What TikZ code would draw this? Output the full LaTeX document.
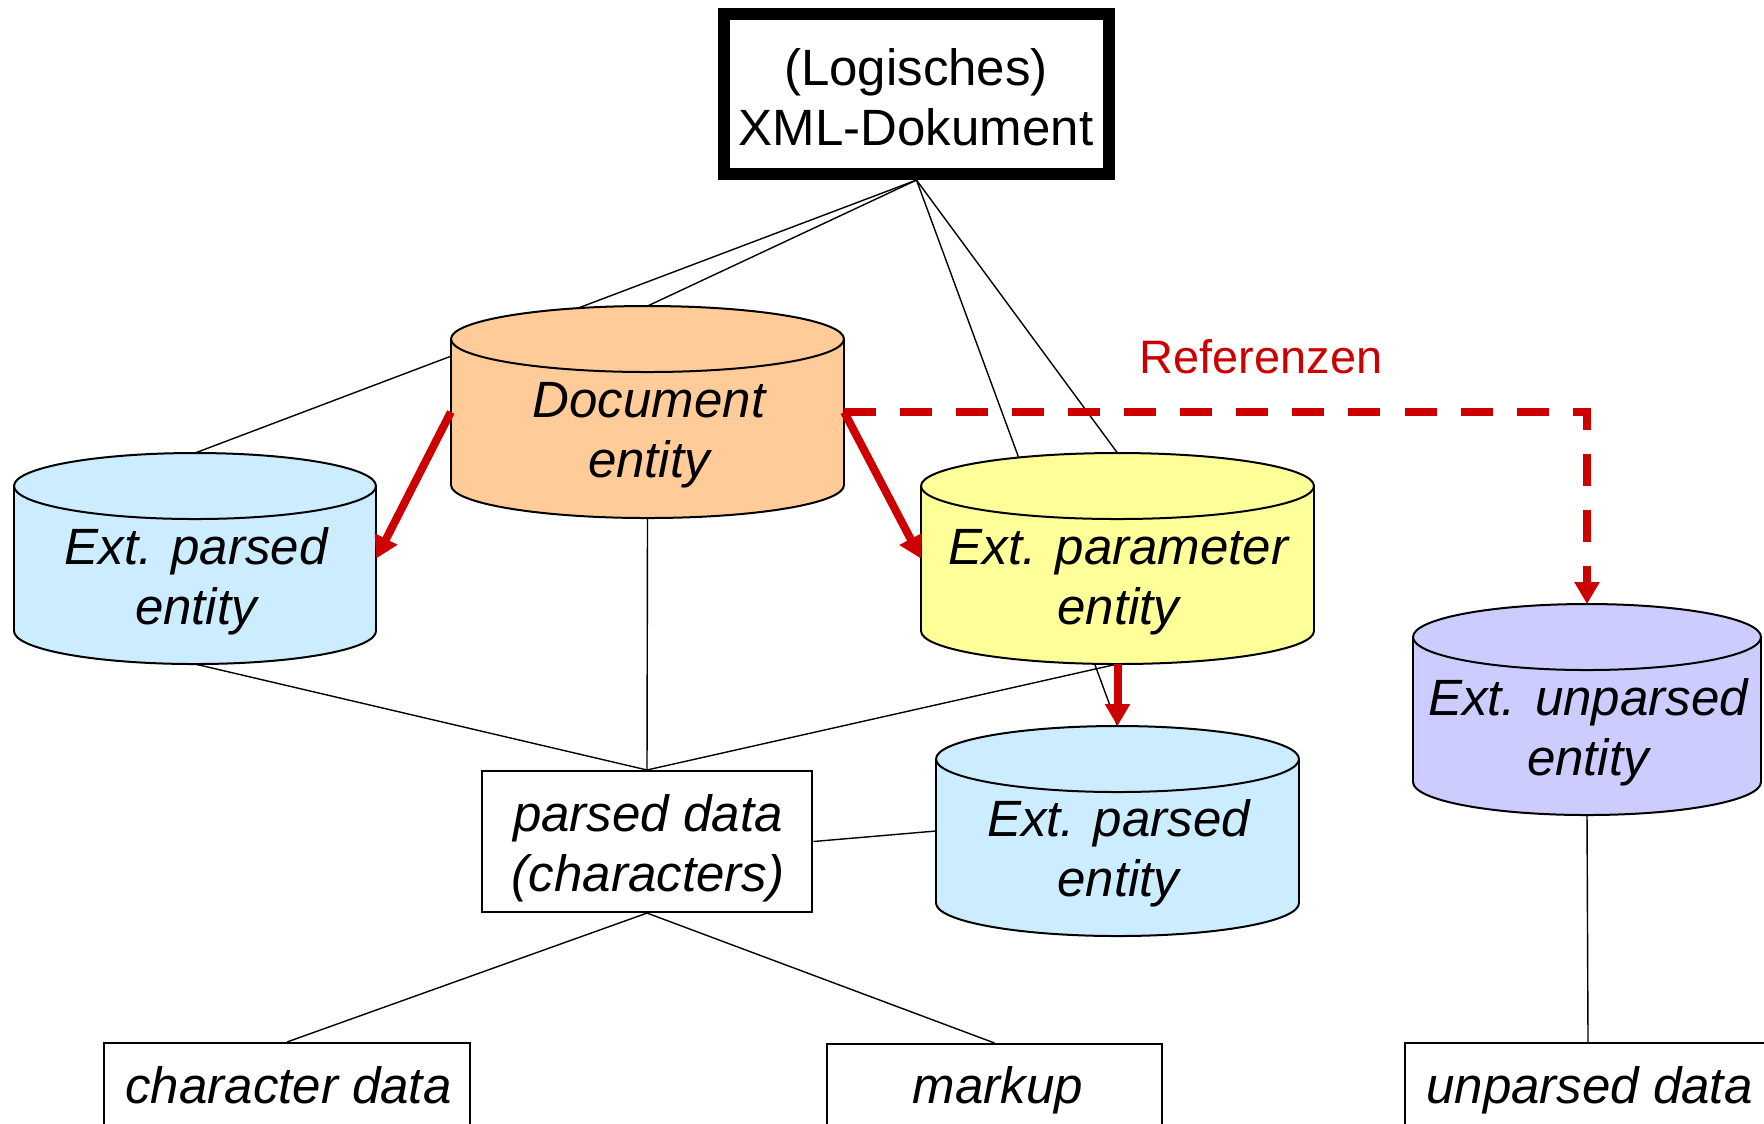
\documentclass[tikz,border=0pt]{standalone}
\usepackage{fontspec}
\setmainfont{Liberation Sans}
\usetikzlibrary{arrows.meta}
\pgfdeclarelayer{back}
\pgfdeclarelayer{bg}
\pgfsetlayers{back,bg,main}
\definecolor{refred}{HTML}{CC0000}
\definecolor{cylblue}{HTML}{CCECFF}
\definecolor{cylorange}{HTML}{FFCC99}
\definecolor{cylyellow}{HTML}{FFFF99}
\definecolor{cylpurple}{HTML}{CCCCFF}
\newcommand\lblfont{\fontsize{14.51pt}{17.07pt}\selectfont}
\newcommand\reffont{\fontsize{13.35pt}{15pt}\selectfont}
\tikzset{
 shapebox/.style={rectangle, inner sep=0pt, outer sep=0pt, draw=none},
 cylline/.style={draw=black, line width=0.02cm},
 conn/.style={draw=black, line width=0.014cm},
 plainbox/.style={rectangle, draw=black, fill=white, line width=0.02cm, inner sep=0pt},
 topbox/.style={rectangle, draw=black, fill=white, line width=0.12cm, inner sep=0pt},
 lbl/.style={font=\lblfont, align=center, inner sep=0pt},
 ilbl/.style={font=\lblfont\itshape, align=center, inner sep=0pt},
 refarrow/.style={draw=refred, line width=0.08cm, -{Triangle[length=0.22cm,width=0.24cm]}},
 refdash/.style={refarrow, dash pattern=on 0.32cm off 0.24cm},
}
% name, cx, ytop, ybot, rx, ry, colour
\newcommand\cylnode[7]{%
  \node[shapebox, minimum width={#5*0.02cm}, minimum height={(#4-#3)*0.01cm}] (#1) at (#2,{(#3+#4)/2}) {};
  \filldraw[fill=#7, cylline] (#2,#4-#6) ellipse [x radius=#5, y radius=#6];
  \fill[#7] (#2-#5,#3+#6) rectangle (#2+#5,#4-#6);
  \draw[cylline] (#2-#5,#3+#6) -- (#2-#5,#4-#6) (#2+#5,#3+#6) -- (#2+#5,#4-#6);
  \filldraw[fill=#7, cylline] (#2,#3+#6) ellipse [x radius=#5, y radius=#6];
}
\begin{document}
\begin{tikzpicture}[x=0.01cm, y=-0.01cm]
\useasboundingbox (0,0) rectangle (1764,1123);
\begin{pgfonlayer}{back}
\fill[white] (0,0) rectangle (1764,1123);
\end{pgfonlayer}

% boxes
\node[topbox, minimum width=3.85cm, minimum height=1.60cm] (top) at (916.5,94) {};
\node[plainbox, minimum width=3.305cm, minimum height=1.41cm] (pd) at (647,841.5) {};
\begin{scope}
\clip (0,0) rectangle (1764,1123);
\node[plainbox, minimum width=3.665cm, minimum height=1.2cm] (cd) at (287,1103) {};
\node[plainbox, minimum width=3.35cm, minimum height=1.2cm] (mk) at (994.5,1104) {};
\node[plainbox, minimum width=3.66cm, minimum height=1.2cm] (ud) at (1588,1103) {};
\end{scope}

% cylinders
\cylnode{doc}{647.5}{306}{518}{196.5}{33}{cylorange}
\cylnode{lep}{195}{453}{664}{181}{33}{cylblue}
\cylnode{pe}{1117.5}{453}{664}{196.5}{33}{cylyellow}
\cylnode{lepb}{1117.5}{726}{936}{181.5}{33}{cylblue}
\cylnode{ue}{1587}{604}{815}{174}{33}{cylpurple}

% connectors (behind)
\begin{pgfonlayer}{bg}
\draw[conn] (top.south) -- (lep.north);
\draw[conn] (top.south) -- (doc.north);
\draw[conn] (top.south) -- (pe.north);
\draw[conn] (top.south) -- (lepb.north);
\draw[conn] (lep.south) -- (pd.north);
\draw[conn] (doc.south) -- (pd.north);
\draw[conn] (pe.south) -- (pd.north);
\draw[conn] (pd.east) -- (lepb.west);
\draw[conn] (pd.south) -- (cd.north);
\draw[conn] (pd.south) -- (mk.north);
\draw[conn] (ue.south) -- (ud.north);
\end{pgfonlayer}

% texts
\node[lbl] (toptext) at (916,103) {\strut(Logisches)\\XML-Dokument\strut};
\node[ilbl] (doctext) at (649,435) {\strut Document\\entity\strut};
\node[ilbl] (leptext) at (196,582) {\strut Ext. parsed\\entity\strut};
\node[ilbl] (petext) at (1118.5,582) {\strut Ext. parameter\\entity\strut};
\node[ilbl] (lepbtext) at (1118.5,854) {\strut Ext. parsed\\entity\strut};
\node[ilbl] (uetext) at (1588,733.5) {\strut Ext. unparsed\\entity\strut};
\node[ilbl] (pdtext) at (648,849) {\strut parsed data\\(characters)\strut};
\node[ilbl] (cdtext) at (288.5,1091) {\strut character data};
\node[ilbl] (mktext) at (998,1091) {\strut markup};
\node[ilbl] (udtext) at (1589.5,1091) {\strut unparsed data};
\node[font=\reffont, text=refred, anchor=base, inner sep=0pt] (ref) at (1261,373) {Referenzen};

% reference arrows
\draw[refarrow] (doc.west) -- (lep.east);
\draw[refarrow] (doc.east) -- (pe.west);
\draw[refarrow] (pe.south) -- (lepb.north);
\draw[refdash] (doc.east) -| (ue.north);
\end{tikzpicture}
\end{document}
